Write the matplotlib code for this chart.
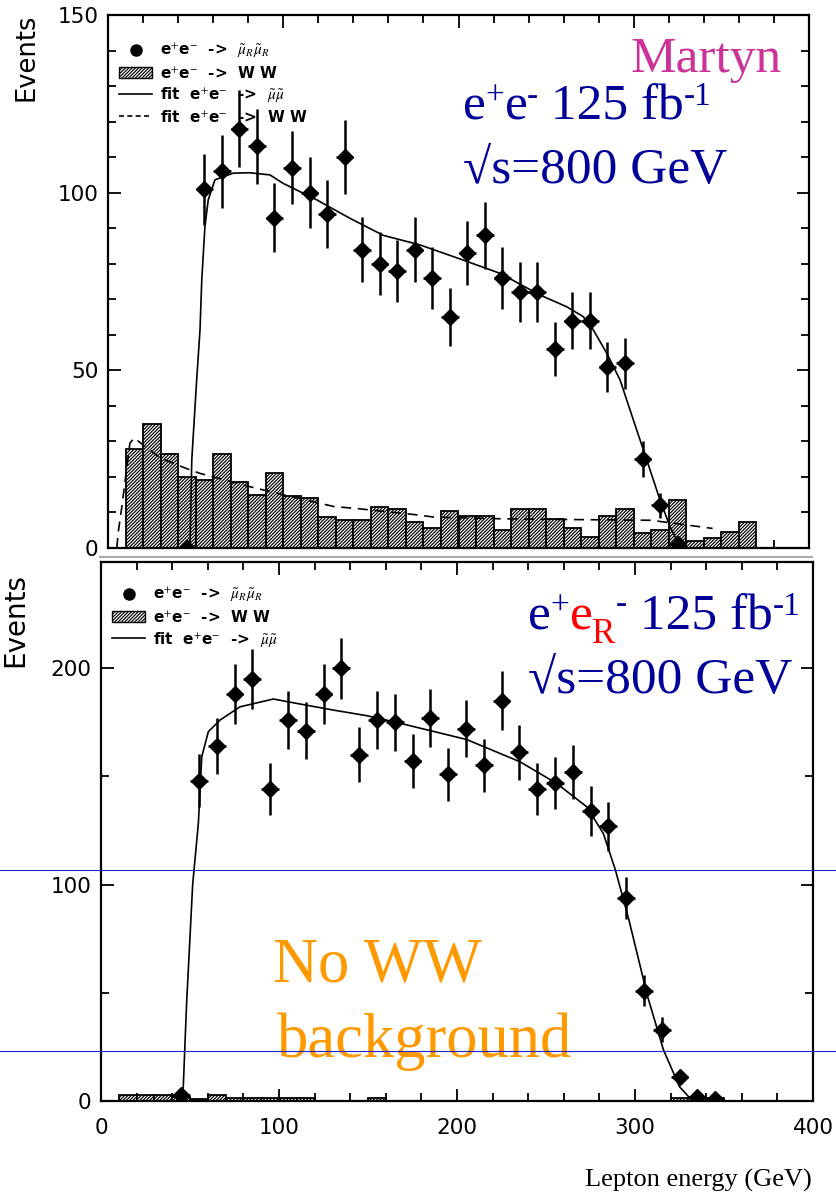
#!/usr/bin/env python3

# Lepton energy spectra for smuon pair production, e+e- at 800 GeV, 125 fb-1
# top: unpolarised beams with the WW background, bottom: right-handed electrons

import numpy as np
import matplotlib.pyplot as plt
from matplotlib.lines import Line2D
from matplotlib.patches import Patch
from matplotlib.ticker import MultipleLocator

W, H = 836, 1197
SERIF = ['Liberation Serif', 'DejaVu Serif']
BLUE = '#000099'
HATCH = '/' * 10

# ---- top panel data ----
top_x = [45, 55, 65, 75, 85, 95, 105, 115, 125, 135, 145, 155, 165, 175, 185,
         195, 205, 215, 225, 235, 245, 255, 265, 275, 285, 295, 305, 315, 325]
top_y = [0, 101, 106, 118, 113, 93, 107, 100, 94, 110, 84, 80, 78, 84, 76,
         65, 83, 88, 76, 72, 72, 56, 64, 64, 51, 52, 25, 12, 1]
top_err = [0, 10.0, 10.3, 10.9, 10.6, 9.6, 10.3, 10.0, 9.7, 10.5, 9.2, 8.9, 8.8, 9.2, 8.7,
           8.1, 9.1, 9.4, 8.7, 8.5, 8.5, 7.5, 8.0, 8.0, 7.1, 7.2, 5.0, 3.5, 1.0]

top_bg_lo = [10, 20, 30, 40, 50, 60, 70, 80, 90, 100, 110, 120, 130, 140, 150, 160, 170, 180,
             190, 200, 210, 220, 230, 240, 250, 260, 270, 280, 290, 300, 310, 320, 330, 340, 350, 360]
top_bg = [28, 35, 26.5, 20, 19, 26.5, 18.6, 15, 21, 14.7, 14, 8.7, 8, 8, 11.4, 11, 7.2, 5.6,
          10.5, 9, 9, 5, 11, 11, 8.2, 5.6, 3, 9, 11, 4.2, 5.2, 13.4, 1.9, 2.8, 4.4, 7.3]

top_fit_x = [46.8, 47.8, 50.6, 52.5, 53.5, 55.3, 57.2, 61, 71.5, 81, 92.4, 100, 119, 138, 157,
             178, 200, 223.7, 246.5, 261.7, 271.2, 276.9, 284.6, 292.2, 299.8, 307.4, 315, 320.7, 326.4]
top_fit_y = [0, 24.8, 47.3, 61.4, 75.4, 90.4, 98, 103.6, 105.5, 105.6, 105, 102.6, 98, 92.8, 88,
             85.3, 81.5, 77.3, 71.2, 67.9, 65.1, 61.4, 54.8, 47.3, 36, 24.8, 13.5, 6, 0.4]

top_bgfit_x = [5, 6, 8, 12.5, 15, 20, 30, 44, 52.5, 83, 100, 128.6, 144, 175, 186, 226, 266,
               310, 339, 345]
top_bgfit_y = [0, 5, 12, 29.5, 31, 29, 25.3, 22.5, 21, 17, 15, 11.7, 11, 9.4, 8.7, 8.2, 8,
               7.8, 5.9, 5.5]

# ---- bottom panel data ----
bot_x = [45, 55, 65, 75, 85, 95, 105, 115, 125, 135, 145, 155, 165, 175, 185, 195,
         205, 215, 225, 235, 245, 255, 265, 275, 285, 295, 305, 315, 325, 335, 345]
bot_y = [3, 148, 164, 188, 195, 144, 176, 171, 188, 200, 160, 176, 175, 157, 177, 151,
         172, 155, 185, 161, 144, 147, 152, 134, 127, 94, 51, 33, 11, 2, 1]
bot_err = [1.7, 12.2, 12.8, 13.7, 14.0, 12.0, 13.3, 13.1, 13.7, 14.1, 12.6, 13.3, 13.2, 12.5, 13.3, 12.3,
           13.1, 12.4, 13.6, 12.7, 12.0, 12.1, 12.3, 11.6, 11.3, 9.7, 7.1, 5.7, 3.3, 1.4, 1.0]

bot_bg_lo = [10, 20, 30, 40, 50, 60, 70, 80, 90, 100, 110, 150, 320, 330, 340]
bot_bg = [3, 3, 3, 2, 1, 3, 1.5, 1.5, 1.5, 1.5, 1.5, 1.5, 1.5, 1.5, 1.5]

bot_fit_x = [45, 46, 48.1, 51.5, 54.7, 56.6, 60.3, 66.9, 78.1, 96.8, 111.8, 130.5, 149.3, 168,
             205.4, 235.4, 256, 272.9, 282.2, 289, 296.6, 307.1, 316, 325, 331, 335]
bot_fit_y = [0, 2, 45.3, 100, 128.3, 159, 170.6, 176, 182.1, 185.7, 183.4, 180.6, 178, 174.5,
             167, 156.7, 146.7, 135.9, 123.6, 106.7, 83.6, 48.2, 23.6, 6.6, 1.2, 0]

plt.rcParams['hatch.linewidth'] = 0.85
plt.rcParams['mathtext.fontset'] = 'stix'

fig = plt.figure(figsize=(W / 100, H / 100), dpi=100)


def axes_px(left, top, right, bottom):
    return fig.add_axes([left / W, 1 - bottom / H, (right - left) / W, (bottom - top) / H])


def style(ax, xmaj, xmin, ymaj, ymin):
    ax.xaxis.set_major_locator(MultipleLocator(xmaj))
    ax.xaxis.set_minor_locator(MultipleLocator(xmin))
    ax.yaxis.set_major_locator(MultipleLocator(ymaj))
    ax.yaxis.set_minor_locator(MultipleLocator(ymin))
    ax.tick_params(which='both', direction='in', top=True, right=True, width=1.3,
                   labelsize=15.5, pad=7)
    ax.tick_params(which='major', length=9)
    ax.tick_params(which='minor', length=6)
    for s in ax.spines.values():
        s.set_linewidth(1.6)


def draw_panel(ax, px, py, pe, bg_lo, bg, fx, fy):
    ax.bar(bg_lo, bg, width=10, align='edge', facecolor='white', edgecolor='black',
           hatch=HATCH, linewidth=1.3, zorder=2)
    ax.plot(fx, fy, color='black', lw=1.2, zorder=3)
    ax.errorbar(px, py, yerr=pe, xerr=5, fmt='D', color='black', ms=8,
                elinewidth=1.8, capsize=0, zorder=4)


LEG = dict(loc='upper left', frameon=False, prop={'size': 11, 'weight': 'bold'},
           handlelength=2.2, handletextpad=0.5, labelspacing=0.3, borderpad=0.2)

# ---- top panel ----
ax1 = axes_px(108, 15, 809, 548)
draw_panel(ax1, top_x, top_y, top_err, top_bg_lo, top_bg, top_fit_x, top_fit_y)
ax1.plot(top_bgfit_x, top_bgfit_y, color='black', lw=1.2, ls=(0, (6, 4)), zorder=3)
ax1.set_xlim(0, 400)
ax1.set_ylim(0, 150)
style(ax1, 100, 20, 50, 10)
ax1.tick_params(labelbottom=False)

h1 = [Line2D([], [], marker='o', color='black', ls='none', ms=8),
      Patch(facecolor='white', edgecolor='black', hatch=HATCH),
      Line2D([], [], color='black', lw=1.2),
      Line2D([], [], color='black', lw=1.2, ls=(0, (3, 2)))]
l1 = [r'e$^{+}$e$^{-}$  ->  $\tilde{\mu}_R\tilde{\mu}_R$',
      r'e$^{+}$e$^{-}$  ->  W W',
      r'fit  e$^{+}$e$^{-}$  ->  $\tilde{\mu}\tilde{\mu}$',
      r'fit  e$^{+}$e$^{-}$  ->  W W']
ax1.legend(h1, l1, bbox_to_anchor=(0.0, 0.97), **LEG)

# ---- bottom panel ----
ax2 = axes_px(101, 562, 813, 1101)
draw_panel(ax2, bot_x, bot_y, bot_err, bot_bg_lo, bot_bg, bot_fit_x, bot_fit_y)
ax2.set_xlim(0, 400)
ax2.set_ylim(0, 249)
style(ax2, 100, 20, 100, 50)
ax2.tick_params(axis='x', pad=12)
ax2.legend(h1[:3], l1[:3], bbox_to_anchor=(0.0, 0.975), **LEG)

# axis titles
fig.text(27 / W, 1 - 57 / H, 'Events', rotation=90, fontsize=18.5, ha='center', va='center')
fig.text(15 / W, 1 - 620 / H, 'Events', rotation=90, fontsize=20, ha='center', va='center')
fig.text(812 / W, 1 - 1180 / H, 'Lepton energy (GeV)', fontsize=19, family=SERIF,
         ha='right', va='center')

# slide annotations, written piece by piece so superscripts stay small
renderer = fig.canvas.get_renderer()


def put(x, y, segs):
    # segs: (text, colour, size, rise in px above the baseline)
    for s, color, sz, rise in segs:
        t = fig.text(x / W, 1 - (y - rise) / H, s, color=color, fontsize=sz, family=SERIF,
                     ha='left', va='baseline')
        x = t.get_window_extent(renderer).x1
    return x


fig.text(782 / W, 1 - 72 / H, 'Martyn', color='#CC3399', fontsize=37, family=SERIF,
         ha='right', va='baseline')
put(463, 120, [('e', BLUE, 37, 0), ('+', BLUE, 24, 15), ('e', BLUE, 37, 0),
               ('-', BLUE, 24, 15), (' 125 fb', BLUE, 37, 0), ('-1', BLUE, 24, 15)])
put(463, 183, [('\u221as=800 GeV', BLUE, 37, 0)])

put(528, 630, [('e', BLUE, 37, 0), ('+', BLUE, 24, 15), ('e', 'red', 37, 0),
               ('R', 'red', 25, -13), ('-', BLUE, 24, 17), (' 125 fb', BLUE, 37, 0),
               ('-1', BLUE, 24, 15)])
put(528, 693, [('\u221as=800 GeV', BLUE, 37, 0)])

put(273, 982, [('No WW', '#FF9900', 45, 0)])
put(277, 1057, [('background', '#FF9900', 45, 0)])

# slide artefacts: grey edge under the top picture, blue guide lines
fig.add_artist(Line2D([100 / W, 812 / W], [1 - 557 / H] * 2, color='#aaaaaa', lw=1.5))
for yy in [870, 1051]:
    fig.add_artist(Line2D([0, 1], [1 - yy / H] * 2, color='#2222cc', lw=0.8, zorder=10))

fig.savefig('out.png', dpi=100)
